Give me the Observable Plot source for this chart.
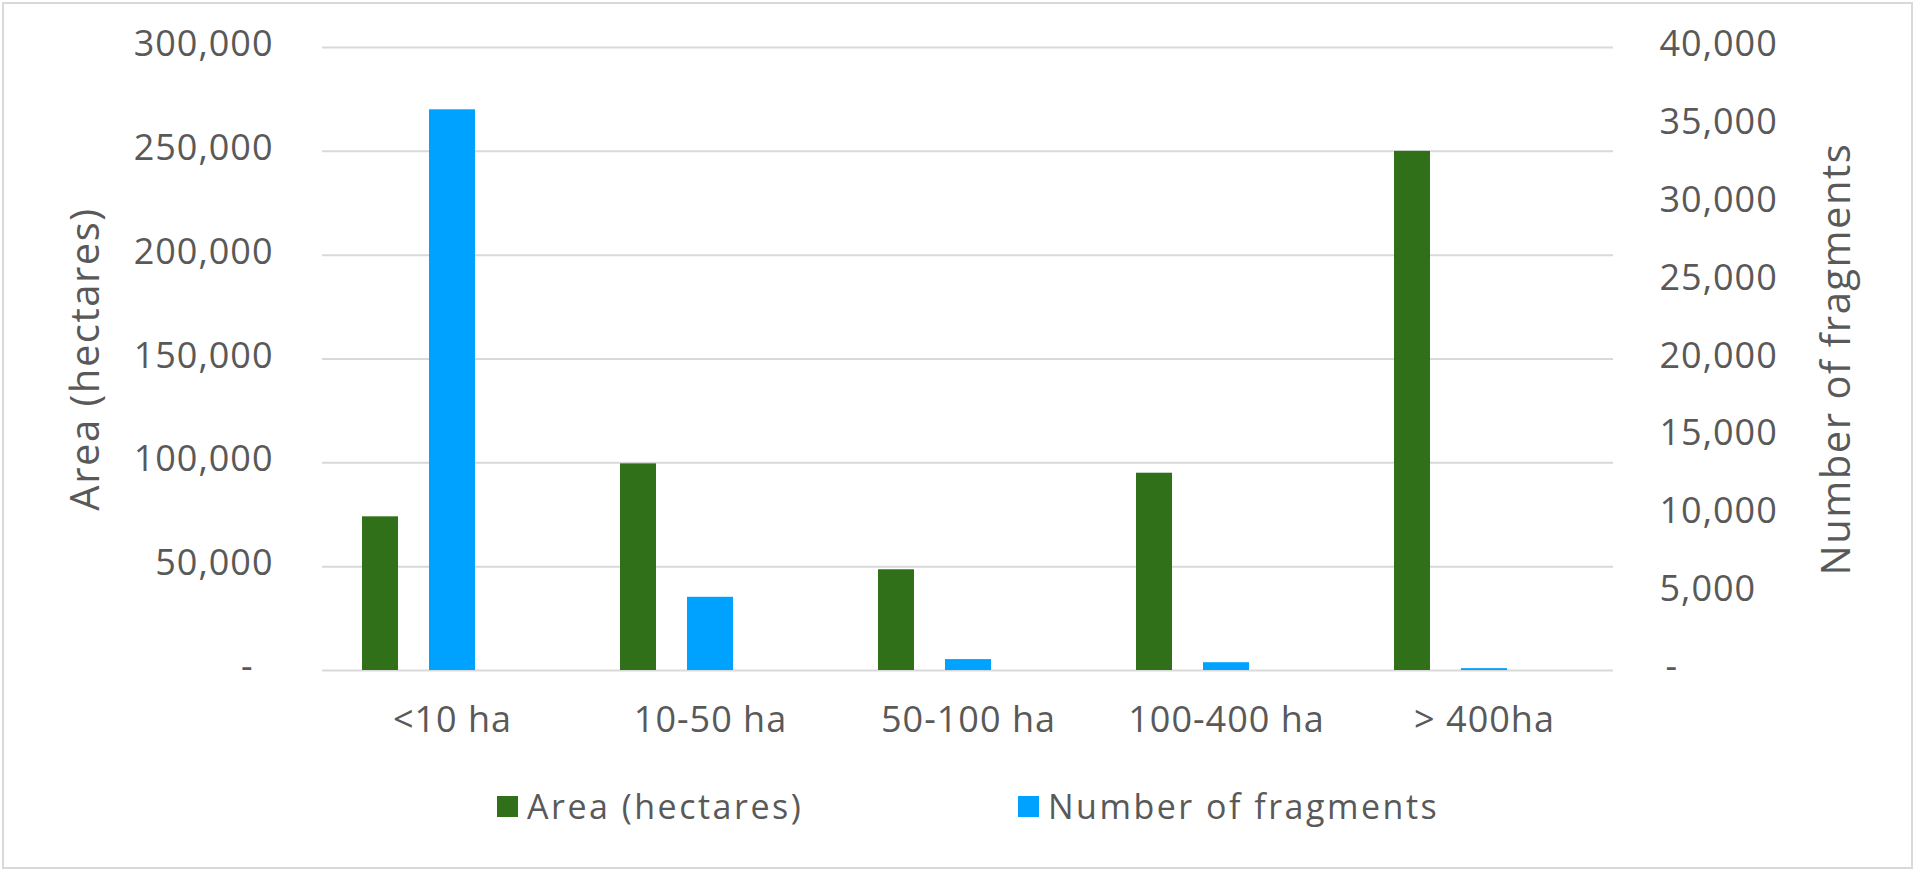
<!DOCTYPE html>
<html>
<head>
<meta charset="utf-8">
<script src="https://cdn.jsdelivr.net/npm/d3@7"></script>
<script src="https://cdn.jsdelivr.net/npm/@observablehq/plot@0.6"></script>
<style>
  html, body { margin: 0; padding: 0; background: #fff; }
  #wrap { position: relative; width: 1920px; height: 873px; overflow: hidden; font-family: "Open Sans", sans-serif; color: #595959; }
  #frame { position: absolute; left: 2px; top: 2px; width: 1911px; height: 867px; box-sizing: border-box; border: 2px solid #d9d9d9; pointer-events: none; }
  #chart { position: absolute; left: 0; top: 0; }
  #legend { position: absolute; left: 0; top: 786px; width: 1920px; height: 40px; font-size: 34px; letter-spacing: 2.5px; }
  .item { position: absolute; top: 0; height: 40px; display: flex; align-items: center; white-space: nowrap; }
  .sw { width: 21px; height: 21px; margin-right: 9px; flex: none; }
</style>
</head>
<body>
<div id="wrap">
  <div id="chart"></div>
  <div id="legend"></div>
  <div id="frame"></div>
</div>
<script>
// ---- data ----
const categories = ["<10 ha", "10-50 ha", "50-100 ha", "100-400 ha", "> 400ha"];
const areaHectares = [74000, 99500, 48500, 95000, 250000];
const numberOfFragments = [36000, 4700, 700, 500, 120];
const leftTicks = [0, 50000, 100000, 150000, 200000, 250000, 300000];
const rightTicks = [0, 5000, 10000, 15000, 20000, 25000, 30000, 35000, 40000];
const seriesNames = ["Area (hectares)", "Number of fragments"];
const seriesColors = ["#2f7019", "#00a2ff"];

// secondary axis maps onto primary scale
const ratio = leftTicks[leftTicks.length - 1] / rightTicks[rightTicks.length - 1];
const data = categories.map((c, i) => ({cat: c, area: areaHectares[i], frag: numberOfFragments[i]}));
const fmt = d3.format(",");

const svg = Plot.plot({
  width: 1920,
  height: 760,
  marginLeft: 322,
  marginRight: 307,
  marginTop: 47,
  marginBottom: 90,
  style: {fontFamily: "Open Sans, sans-serif", fontSize: "36px", color: "#595959", background: "transparent", letterSpacing: "1px"},
  x: {domain: categories, padding: 0, label: null},
  y: {domain: [0, leftTicks[leftTicks.length - 1]], label: null},
  marks: [
    Plot.gridY(leftTicks, {stroke: "#d9d9d9", strokeOpacity: 1, strokeWidth: 2}),
    Plot.barY(data, {x: "cat", y: "area", fill: seriesColors[0], insetLeft: 39, insetRight: 183}),
    Plot.barY(data, {x: "cat", y: d => d.frag * ratio, fill: seriesColors[1], insetLeft: 106, insetRight: 106}),
    Plot.axisX({tickSize: 0, tickPadding: 36, fontSize: 36, label: null}),
    Plot.axisY(leftTicks.filter(v => v > 0), {anchor: "left", tickSize: 0, tickPadding: 49, fontSize: 36, dy: -3, tickFormat: fmt, label: null}),
    Plot.axisY([0], {anchor: "left", tickSize: 0, tickPadding: 69, fontSize: 36, dy: -3, tickFormat: () => "-", label: null}),
    Plot.axisY(rightTicks.filter(v => v > 0).map(v => v * ratio), {anchor: "right", tickSize: 0, tickPadding: 46, fontSize: 36, dy: -3, tickFormat: d => fmt(Math.round(d / ratio)), label: null}),
    Plot.axisY([0], {anchor: "right", tickSize: 0, tickPadding: 52, fontSize: 36, dy: -3, tickFormat: () => "-", label: null}),
    Plot.text([seriesNames[0]], {frameAnchor: "left", textAnchor: "middle", rotate: -90, dx: -236, fontSize: 40, fill: "#595959"}),
    Plot.text([seriesNames[1]], {frameAnchor: "right", textAnchor: "middle", rotate: -90, dx: 224, fontSize: 40, fill: "#595959"})
  ]
});
d3.select(svg).selectAll('g[aria-label="text"] text').style("letter-spacing", "1.5px");
document.getElementById("chart").appendChild(svg);

// legend
const legend = d3.select("#legend");
const legendX = [497, 1018];
seriesNames.forEach((name, i) => {
  const item = legend.append("div").attr("class", "item").style("left", legendX[i] + "px");
  item.append("div").attr("class", "sw").style("background", seriesColors[i]);
  item.append("span").text(name);
});
</script>
</body>
</html>
